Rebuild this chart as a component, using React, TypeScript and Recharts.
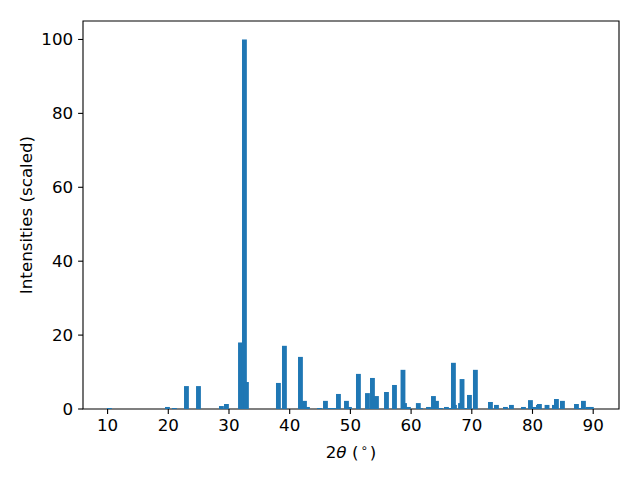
import React from "react";
import { Bar, ComposedChart, Label, ReferenceArea, XAxis, YAxis } from "recharts";

// 2theta positions (degrees) and scaled intensities
const twoTheta = [
  10.31, 19.87, 21.02, 23.0, 24.98, 28.76, 29.59, 31.9, 32.55, 32.88,
  38.15, 39.14, 41.78, 42.44, 42.93, 44.91, 45.9, 46.72, 47.22, 48.04,
  49.36, 49.85, 51.33, 52.82, 53.64, 54.3, 55.95, 57.27, 58.67, 58.92,
  59.57, 61.2, 61.55, 62.87, 63.69, 64.19, 64.84, 65.83, 66.4, 66.98,
  67.15, 68.15, 68.4, 68.8, 69.62, 70.6, 73.08, 74.07, 75.55, 76.54,
  78.52, 79.67, 80.2, 80.99, 81.15, 82.4, 83.62, 83.95, 84.94, 87.25,
  87.8, 88.4, 89.2, 89.7,
];
const intensity = [
  0.27, 0.55, 0.27, 6.2, 6.2, 0.8, 1.35, 18.0, 100, 7.3,
  7.05, 17.1, 14.1, 2.2, 0.55, 0.27, 2.2, 0.27, 0.27, 4.07,
  2.2, 0.55, 9.5, 4.3, 8.4, 3.5, 4.6, 6.5, 10.6, 1.6,
  0.55, 1.6, 0.27, 0.55, 3.5, 2.2, 0.27, 0.55, 0.27, 12.5,
  1.1, 1.6, 8.1, 0.27, 3.8, 10.6, 1.9, 1.1, 0.55, 1.1,
  0.55, 2.4, 0.55, 1.1, 1.35, 1.1, 1.1, 2.7, 2.2, 1.35,
  0.27, 2.2, 0.55, 0.55,
];
const xTicks = [10, 20, 30, 40, 50, 60, 70, 80, 90];
const yTicks = [0, 20, 40, 60, 80, 100];

const data = twoTheta.map((x, i) => ({ x, y: intensity[i] }));

const X_MIN = 5.95;
const X_MAX = 94.25;
const Y_MAX = 105;
const PLOT_W = 536;
const BAR_PX = (0.8 * PLOT_W) / (X_MAX - X_MIN);
const FONT = "'DejaVu Sans', sans-serif";
const FS = 16.7;

const BarShape = (props: any) => {
  const { x, y, width, height } = props;
  const cx = x + width / 2;
  return <rect x={cx - BAR_PX / 2} y={y} width={BAR_PX} height={height} fill="#1f77b4" />;
};

const YTitle = (props: any) => {
  const { viewBox } = props;
  const cy = viewBox.y + viewBox.height / 2;
  return (
    <text
      x={26}
      y={cy}
      transform={`rotate(-90 26 ${cy})`}
      textAnchor="middle"
      dominantBaseline="central"
      fontFamily={FONT}
      fontSize={FS}
      fill="#000"
    >
      Intensities (scaled)
    </text>
  );
};

const XTitle = (props: any) => {
  const { viewBox } = props;
  const cx = viewBox.x + viewBox.width / 2;
  return (
    <text x={cx} y={458} textAnchor="middle" fontFamily={FONT} fontSize={FS} fill="#000">
      <tspan>2</tspan>
      <tspan fontStyle="italic">θ</tspan>
      <tspan> (</tspan>
      <tspan fontSize={11.7} dx={2} dy={-6}>∘</tspan>
      <tspan dx={2} dy={6}>)</tspan>
    </text>
  );
};

export default function App() {
  const tick = { fontFamily: FONT, fontSize: FS, fill: "#000" };
  return (
    <div style={{ position: "absolute", left: 0, top: 0, background: "#fff" }}>
      <ComposedChart
        width={640}
        height={480}
        data={data}
        margin={{ top: 21, right: 21, left: 0, bottom: 0 }}
      >
        <XAxis
          type="number"
          dataKey="x"
          domain={[X_MIN, X_MAX]}
          ticks={xTicks}
          allowDataOverflow
          height={71}
          tick={tick}
          tickSize={4.9}
          tickMargin={4.9}
          tickLine={{ stroke: "#000", strokeWidth: 1.1 }}
          axisLine={false}
        >
          <Label content={<XTitle />} />
        </XAxis>
        <YAxis
          type="number"
          domain={[0, Y_MAX]}
          ticks={yTicks}
          allowDataOverflow
          width={83}
          tick={tick}
          tickSize={4.9}
          tickMargin={4.9}
          tickLine={{ stroke: "#000", strokeWidth: 1.1 }}
          axisLine={false}
        >
          <Label content={<YTitle />} />
        </YAxis>
        <Bar dataKey="y" barSize={BAR_PX} shape={<BarShape />} isAnimationActive={false} />
        <ReferenceArea
          x1={X_MIN}
          x2={X_MAX}
          y1={0}
          y2={Y_MAX}
          fill="none"
          stroke="#000"
          strokeWidth={1.1}
          strokeOpacity={1}
          ifOverflow="visible"
        />
      </ComposedChart>
    </div>
  );
}
